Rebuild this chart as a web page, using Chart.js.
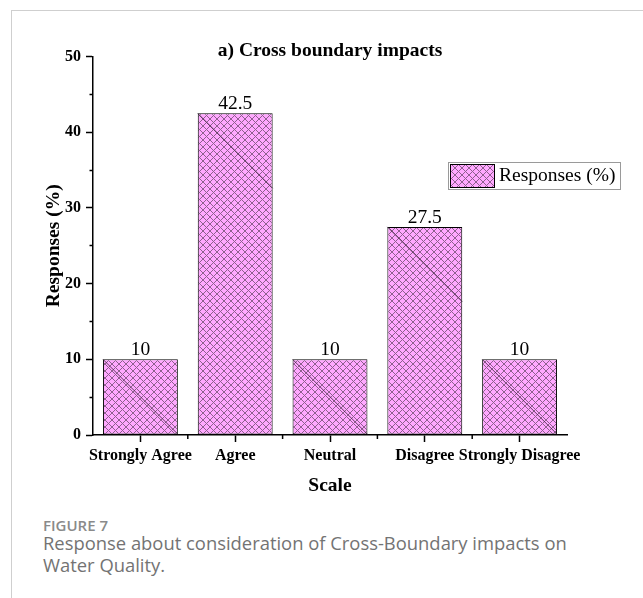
<!DOCTYPE html>
<html>
<head>
<meta charset="utf-8">
<script src="https://cdn.jsdelivr.net/npm/chart.js@4.4.1/dist/chart.umd.min.js"></script>
<style>
    html, body { margin: 0; padding: 0; background: #fff; }
    body { width: 643px; height: 598px; position: relative; overflow: hidden; }
    .frame {
        position: absolute; left: 11px; top: 10px; width: 700px; height: 700px;
        border-top: 1px solid #cfcfcf; border-left: 1px solid #cfcfcf;
    }
    #chart { position: absolute; left: 0; top: 0; }
    .fig-label {
        position: absolute; left: 43px; top: 518px;
        font: 600 15px/15px "Open Sans", sans-serif; color: #8a8a8a;
    }
    .fig-caption {
        position: absolute; left: 43px; top: 532px;
        font: 400 18.4px/22px "Open Sans", sans-serif; color: #737373;
        white-space: nowrap;
    }
</style>
</head>
<body>
<div class="frame"></div>
<canvas id="chart" width="643" height="500"></canvas>
<div class="fig-label">FIGURE 7</div>
<div class="fig-caption">Response about consideration of Cross-Boundary impacts on<br>Water Quality.</div>

<script>
// Chart data
const categories = ['Strongly Agree', 'Agree', 'Neutral', 'Disagree', 'Strongly Disagree'];
const responses = [10, 42.5, 10, 27.5, 10];
const yTicks = [0, 10, 20, 30, 40, 50];
const seriesLabel = 'Responses (%)';
const chartTitle = 'a) Cross boundary impacts';
const xTitle = 'Scale';
const yTitle = 'Responses (%)';

const SERIF = '"Liberation Serif", "Times New Roman", serif';
const majorStep = yTicks[1] - yTicks[0];

// pink crosshatch fill, like the Origin pattern (crisp 1px diagonals)
function makeHatch(ctx) {
    const s = 7;
    const tile = document.createElement('canvas');
    tile.width = s;
    tile.height = s;
    const g = tile.getContext('2d');
    g.fillStyle = '#ffa8ff';
    g.fillRect(0, 0, s, s);
    g.fillStyle = '#8e608e';
    for (let i = 0; i < s; i++) {
        g.fillRect(i, i, 1, 1);
        g.fillRect(s - 1 - i, i, 1, 1);
    }
    return ctx.createPattern(tile, 'repeat');
}

// value labels and the dark diagonal in each bar
const barExtras = {
    id: 'barExtras',
    afterDatasetsDraw(chart) {
        const ctx = chart.ctx;
        const meta = chart.getDatasetMeta(0);
        ctx.save();
        meta.data.forEach((bar, i) => {
            const p = bar.getProps(['x', 'y', 'base', 'width'], true);
            const left = p.x - p.width / 2;
            const len = Math.min(p.width, p.base - p.y);
            ctx.strokeStyle = '#3a223a';
            ctx.lineWidth = 0.8;
            ctx.beginPath();
            ctx.moveTo(left, p.y);
            ctx.lineTo(left + len, p.y + len);
            ctx.stroke();

            ctx.fillStyle = '#000';
            ctx.font = '19.5px ' + SERIF;
            ctx.textAlign = 'center';
            ctx.textBaseline = 'alphabetic';
            ctx.fillText(String(chart.data.datasets[0].data[i]), p.x, p.y - 4);
        });
        ctx.restore();
    }
};

// short ticks between categories on the x axis
const minorXTicks = {
    id: 'minorXTicks',
    afterDraw(chart) {
        const x = chart.scales.x;
        const ctx = chart.ctx;
        const y0 = chart.chartArea.bottom;
        ctx.save();
        ctx.strokeStyle = '#000';
        ctx.lineWidth = 1.5;
        for (let i = 1; i < categories.length; i++) {
            const px = (x.getPixelForValue(i - 1) + x.getPixelForValue(i)) / 2;
            ctx.beginPath();
            ctx.moveTo(px, y0);
            ctx.lineTo(px, y0 + 4);
            ctx.stroke();
        }
        ctx.restore();
    }
};

// boxed legend inside the plot
const legendBox = {
    id: 'legendBox',
    afterDraw(chart) {
        const ctx = chart.ctx;
        const ds = chart.data.datasets[0];
        ctx.save();
        ctx.strokeStyle = '#9a9a9a';
        ctx.lineWidth = 1;
        ctx.strokeRect(448.5, 162.5, 172, 27);
        ctx.fillStyle = ds.backgroundColor;
        ctx.fillRect(450, 164, 44, 23);
        ctx.strokeStyle = '#000';
        ctx.strokeRect(450.5, 164.5, 44, 23);
        ctx.fillStyle = '#000';
        ctx.font = '19.5px ' + SERIF;
        ctx.textAlign = 'left';
        ctx.textBaseline = 'middle';
        ctx.fillText(ds.label, 499, 176);
        ctx.restore();
    }
};

const canvas = document.getElementById('chart');
const hatch = makeHatch(canvas.getContext('2d'));

new Chart(canvas, {
    type: 'bar',
    data: {
        labels: categories,
        datasets: [{
            label: seriesLabel,
            data: responses,
            backgroundColor: hatch,
            borderColor: '#000',
            borderWidth: 1,
            borderSkipped: false,
            categoryPercentage: 1,
            barPercentage: 0.79
        }]
    },
    options: {
        responsive: false,
        animation: false,
        layout: { padding: { left: 20, right: 76, top: 41, bottom: 0 } },
        plugins: {
            legend: { display: false },
            tooltip: { enabled: false },
            title: {
                display: true,
                text: chartTitle,
                fullSize: false,
                color: '#000',
                font: { family: SERIF, size: 19.5, weight: 'bold', lineHeight: 0.8 },
                padding: { top: 2, bottom: -2 }
            }
        },
        scales: {
            x: {
                afterFit(scale) { scale.height = 65; },
                grid: {
                    offset: false,
                    drawOnChartArea: false,
                    tickLength: 7,
                    tickColor: '#000',
                    tickWidth: 1.5
                },
                border: { color: '#000', width: 1.5 },
                ticks: {
                    color: '#000',
                    padding: 4,
                    maxRotation: 0,
                    autoSkip: false,
                    font: { family: SERIF, size: 16, weight: 'bold' }
                },
                title: {
                    display: true,
                    text: xTitle,
                    color: '#000',
                    font: { family: SERIF, size: 19.5, weight: 'bold' },
                    padding: { top: 0, bottom: 2 }
                }
            },
            y: {
                min: yTicks[0],
                max: yTicks[yTicks.length - 1],
                afterFit(scale) { scale.width = 73; },
                grid: {
                    drawOnChartArea: false,
                    tickLength: 7,
                    tickColor: '#000',
                    tickWidth: 1.5,
                    // minor ticks: only the half next to the axis is drawn
                    tickBorderDash: (c) => (c.tick && c.tick.value % majorStep !== 0) ? [0, 3.5, 3.5, 20] : []
                },
                border: { color: '#000', width: 1.5 },
                ticks: {
                    stepSize: majorStep / 2,
                    color: '#000',
                    padding: 5,
                    font: { family: SERIF, size: 16, weight: 'bold' },
                    callback: (v) => yTicks.includes(v) ? v : ''
                },
                title: {
                    display: true,
                    text: yTitle,
                    color: '#000',
                    font: { family: SERIF, size: 19.5, weight: 'bold' },
                    padding: { top: 22, bottom: 0 }
                }
            }
        }
    },
    plugins: [barExtras, minorXTicks, legendBox]
});
</script>
</body>
</html>
